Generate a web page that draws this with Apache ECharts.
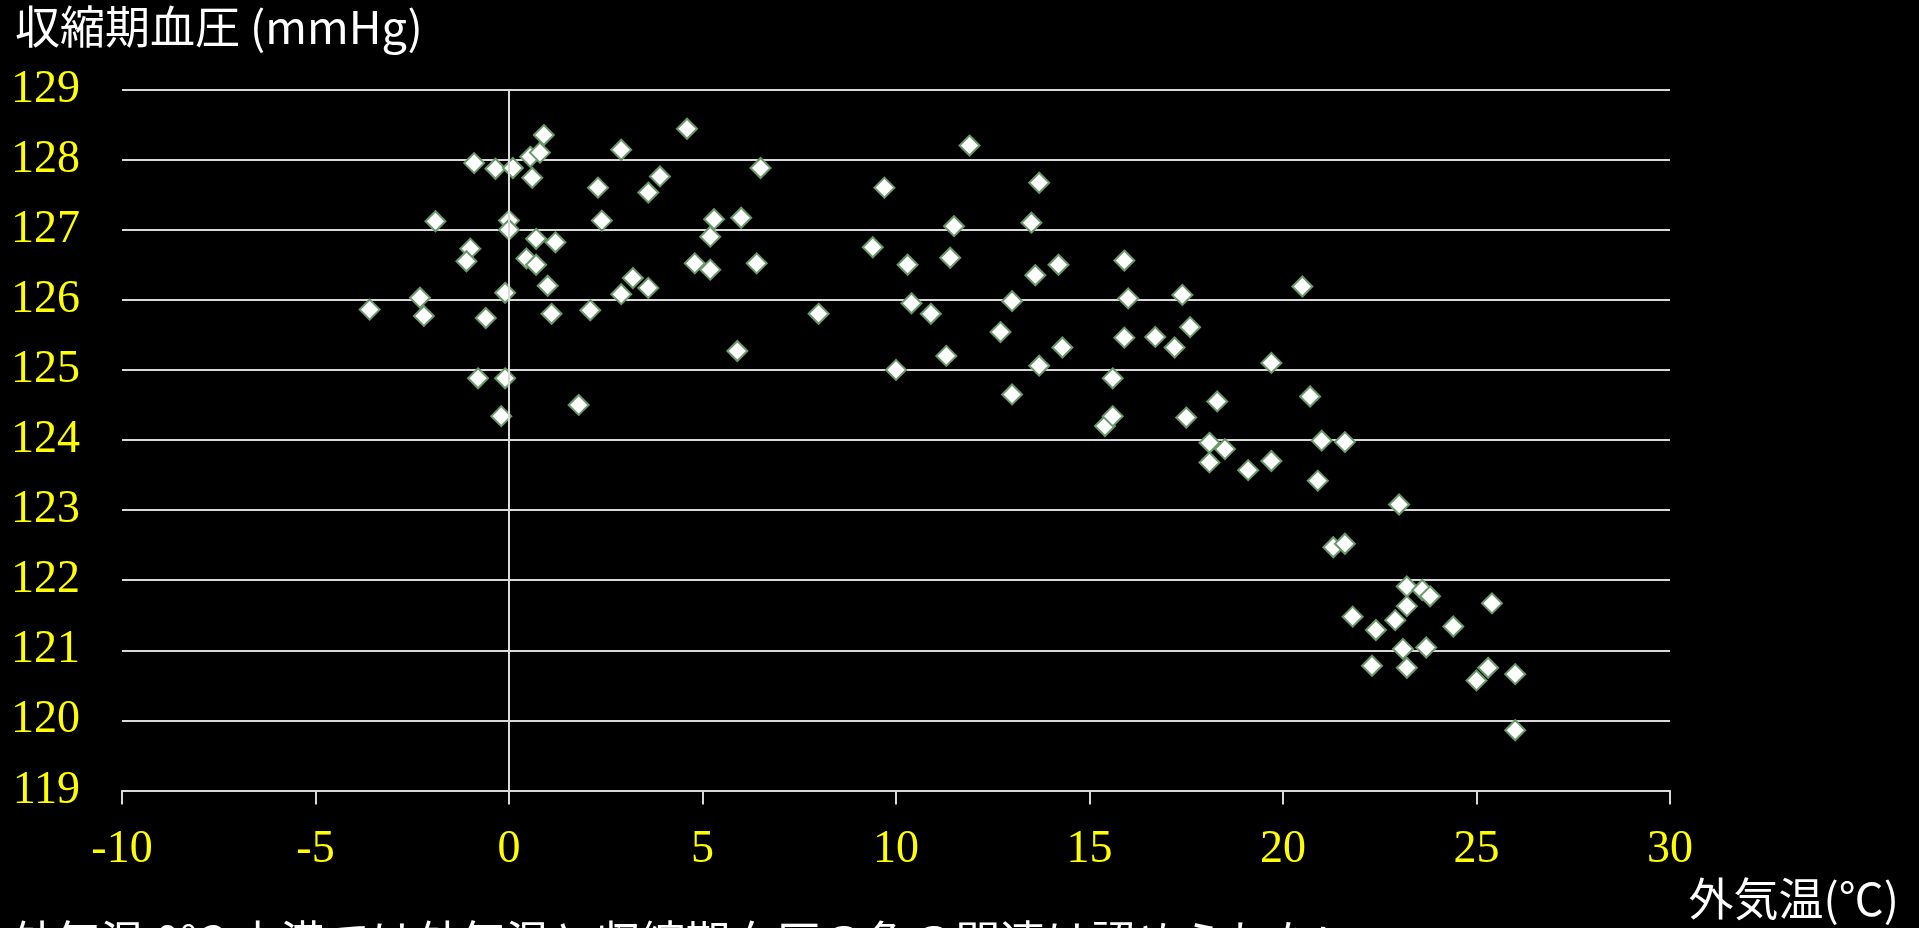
<!DOCTYPE html>
<html>
<head>
<meta charset="utf-8">
<script src="https://cdn.jsdelivr.net/npm/echarts@6/dist/echarts.min.js"></script>
<style>
html,body{margin:0;padding:0;background:#000;}
#c{width:1919px;height:928px;}
</style>
</head>
<body>
<div id="c"></div>
<script>
// Outside temperature (°C)
var temps = [-3.6,-2.3,-2.2,-1.9,-0.9,-1.0,-1.1,-0.6,-0.8,-0.35,0.1,0.0,0.0,-0.1,-0.1,-0.2,
  0.55,0.8,0.9,0.6,0.7,0.45,0.7,1.0,1.2,1.1,1.8,2.1,2.3,2.4,2.9,2.9,3.2,3.6,3.6,3.9,4.6,4.8,
  5.2,5.2,5.3,6.0,5.9,6.5,6.4,8.0,9.4,9.7,10.0,10.3,10.4,10.9,11.3,11.4,11.5,11.9,12.7,13.0,
  13.0,13.5,13.6,13.7,13.7,14.2,14.3,15.4,15.6,15.6,15.9,15.9,16.0,16.7,17.2,17.4,17.6,17.5,
  18.1,18.1,18.3,18.5,19.1,19.7,19.7,20.5,20.7,21.0,20.9,21.6,21.3,21.6,21.8,23.0,22.4,22.3,
  22.9,23.2,23.2,23.1,23.2,23.6,23.8,23.7,24.4,25.0,25.3,25.4,26.0,26.0];
// Systolic blood pressure (mmHg)
var sbp = [125.86,126.03,125.77,127.12,127.95,126.73,126.55,125.74,124.88,127.87,127.88,127.13,127.0,126.1,124.88,124.34,
  128.04,128.1,128.35,127.74,126.87,126.59,126.5,126.2,126.82,125.8,124.5,125.85,127.6,127.13,128.14,126.08,126.31,127.53,126.17,127.76,128.44,126.52,
  126.43,126.9,127.15,127.17,125.27,127.88,126.52,125.8,126.75,127.6,125.0,126.5,125.95,125.8,125.2,126.6,127.05,128.2,125.54,125.98,
  124.65,127.1,126.35,127.67,125.06,126.5,125.32,124.2,124.34,124.88,126.56,125.46,126.02,125.47,125.32,126.07,125.61,124.32,
  123.96,123.68,124.55,123.87,123.57,125.1,123.7,126.19,124.62,123.99,123.42,123.97,122.47,122.52,121.48,123.08,121.29,120.78,
  121.43,121.91,121.63,121.02,120.75,121.86,121.77,121.04,121.34,120.57,120.75,121.67,120.66,119.86];

var yTitle = '収縮期血圧 (mmHg)';
var xTitle = '外気温(℃)';
var note = '外気温 0℃ 未満では外気温と収縮期血圧の負の関連は認められない';

var points = temps.map(function(t, i){ return [t, sbp[i]]; });

var chart = echarts.init(document.getElementById('c'));
var cjk = '"Noto Sans CJK JP", "Noto Sans", sans-serif';
chart.setOption({
  backgroundColor: '#000000',
  animation: false,
  grid: {left: 122, right: 249, top: 89.5, bottom: 137.5, containLabel: false},
  xAxis: {
    type: 'value', min: -10, max: 30, interval: 5,
    axisLine: {show: true, onZero: false, lineStyle: {color: '#d9d9d9', width: 2}},
    axisTick: {show: true, length: 14, lineStyle: {color: '#d9d9d9', width: 2}},
    axisLabel: {color: '#ffff00', fontFamily: '"Liberation Serif", serif', fontSize: 46, margin: 36},
    splitLine: {show: false}
  },
  yAxis: {
    type: 'value', min: 119, max: 129, interval: 1,
    axisLine: {show: false},
    axisTick: {show: false},
    axisLabel: {color: '#ffff00', fontFamily: '"Liberation Serif", serif', fontSize: 46, margin: 42},
    splitLine: {show: true, lineStyle: {color: '#d9d9d9', width: 2}}
  },
  graphic: [
    {type: 'text', left: 15, top: 4, style: {text: yTitle, fill: '#ffffff', font: '45px ' + cjk}},
    {type: 'text', right: 20, top: 876, style: {text: xTitle, fill: '#ffffff', font: '45px ' + cjk}},
    {type: 'text', left: 10, top: 919, style: {text: note, fill: '#ffffff', font: '45px ' + cjk}}
  ],
  series: [{
    type: 'scatter',
    data: points,
    symbol: 'diamond',
    symbolSize: 20,
    itemStyle: {color: '#ffffff', borderColor: '#6a9a6a', borderWidth: 2, opacity: 1},
    markLine: {
      silent: true, symbol: 'none', label: {show: false},
      lineStyle: {color: '#d9d9d9', width: 2, type: 'solid'},
      data: [{xAxis: 0}]
    },
    z: 3
  }]
});
</script>
</body>
</html>
